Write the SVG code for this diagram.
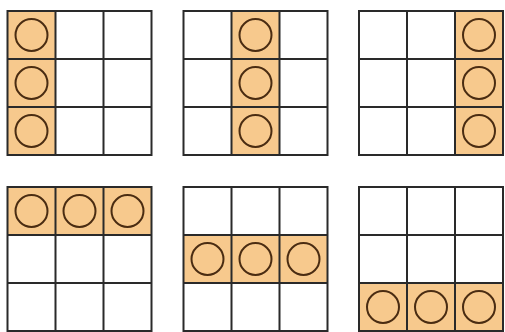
<svg xmlns="http://www.w3.org/2000/svg" xmlns:xlink="http://www.w3.org/1999/xlink" width="505" height="332" viewBox="0 0 505 332">
<style>
.hl{fill:#f7c98d;stroke:none}
.grid{fill:none;stroke:#2a2a2a;stroke-width:2}
.dot{fill:none;stroke:#4a2c12;stroke-width:2}
</style>
<defs>
<g id="g3">
<rect x="0" y="0" width="144" height="144" class="grid"/>
<path class="grid" d="M48 0V144M96 0V144M0 48H144M0 96H144"/>
</g>
<circle id="c" cx="24" cy="24" r="16" class="dot"/>
</defs>
<rect width="505" height="332" fill="#ffffff"/>
<g id="grid1" transform="translate(7.5,11)">
<rect class="hl" x="0" y="0" width="48" height="144"/>
<use xlink:href="#c"/><use xlink:href="#c" y="48"/><use xlink:href="#c" y="96"/>
<use xlink:href="#g3"/>
</g>
<g id="grid2" transform="translate(183.5,11)">
<rect class="hl" x="48" y="0" width="48" height="144"/>
<use xlink:href="#c" x="48"/><use xlink:href="#c" x="48" y="48"/><use xlink:href="#c" x="48" y="96"/>
<use xlink:href="#g3"/>
</g>
<g id="grid3" transform="translate(359,11)">
<rect class="hl" x="96" y="0" width="48" height="144"/>
<use xlink:href="#c" x="96"/><use xlink:href="#c" x="96" y="48"/><use xlink:href="#c" x="96" y="96"/>
<use xlink:href="#g3"/>
</g>
<g id="grid4" transform="translate(7.5,187)">
<rect class="hl" x="0" y="0" width="144" height="48"/>
<use xlink:href="#c"/><use xlink:href="#c" x="48"/><use xlink:href="#c" x="96"/>
<use xlink:href="#g3"/>
</g>
<g id="grid5" transform="translate(183.5,187)">
<rect class="hl" x="0" y="48" width="144" height="48"/>
<use xlink:href="#c" y="48"/><use xlink:href="#c" x="48" y="48"/><use xlink:href="#c" x="96" y="48"/>
<use xlink:href="#g3"/>
</g>
<g id="grid6" transform="translate(359,187)">
<rect class="hl" x="0" y="96" width="144" height="48"/>
<use xlink:href="#c" y="96"/><use xlink:href="#c" x="48" y="96"/><use xlink:href="#c" x="96" y="96"/>
<use xlink:href="#g3"/>
</g>
<g id="connectors"/>
</svg>
